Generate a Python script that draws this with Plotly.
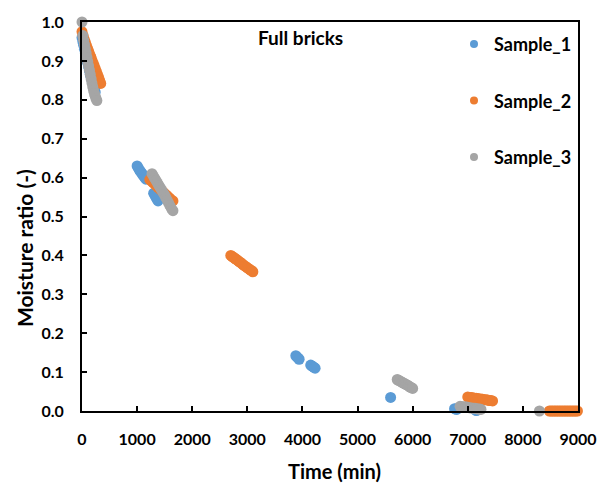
import plotly.graph_objects as go

# Sample_1 (blue)
s1_time = [0, 15, 30, 45, 60, 75, 90, 105, 120, 135, 150, 165, 180, 195, 210, 225, 240,
           1000, 1020, 1040, 1060, 1080, 1100, 1120, 1140, 1160,
           1300, 1320, 1340, 1360, 1380,
           3880, 3900, 3920, 3940,
           4150, 4170, 4190, 4210, 4230,
           5600,
           6760, 6780, 6800, 7140, 7160]
s1_mr = [0.96, 0.95, 0.94, 0.93, 0.92, 0.91, 0.90, 0.895, 0.885, 0.875, 0.865, 0.86, 0.85, 0.845, 0.835, 0.83, 0.82,
         0.630, 0.625, 0.620, 0.616, 0.612, 0.608, 0.604, 0.600, 0.596,
         0.560, 0.555, 0.550, 0.545, 0.540,
         0.142, 0.139, 0.136, 0.133,
         0.118, 0.116, 0.114, 0.112, 0.110,
         0.035,
         0.006, 0.005, 0.004, 0.002, 0.001]

# Sample_2 (orange)
s2_time = [0, 20, 40, 60, 80, 100, 120, 140, 160, 180, 200, 220, 240, 260, 280, 300, 320, 340,
           1230, 1260, 1290, 1320, 1350, 1380, 1410, 1440, 1470, 1500, 1530, 1560, 1590, 1620, 1650,
           2700, 2725, 2750, 2775, 2800, 2825, 2850, 2875, 2900, 2925, 2950, 2975, 3000, 3025, 3050, 3075, 3100,
           7000, 7030, 7060, 7090, 7120, 7150, 7180, 7210, 7240, 7270, 7300, 7330, 7360, 7390, 7420, 7450,
           8480, 8510, 8540, 8570, 8600, 8630, 8660, 8690, 8720, 8750, 8780, 8810, 8840, 8870, 8900, 8930, 8960, 8990]
s2_mr = [0.975, 0.965, 0.955, 0.948, 0.940, 0.932, 0.925, 0.917, 0.910, 0.902, 0.895, 0.888, 0.880, 0.873, 0.865, 0.858, 0.850, 0.842,
         0.595, 0.591, 0.587, 0.583, 0.579, 0.575, 0.571, 0.567, 0.563, 0.559, 0.555, 0.551, 0.547, 0.543, 0.540,
         0.400, 0.397, 0.395, 0.392, 0.390, 0.387, 0.384, 0.382, 0.379, 0.376, 0.373, 0.371, 0.368, 0.366, 0.363, 0.361, 0.358,
         0.036, 0.035, 0.035, 0.034, 0.033, 0.033, 0.032, 0.031, 0.031, 0.030, 0.029, 0.029, 0.028, 0.027, 0.027, 0.026,
         0.0, 0.0, 0.0, 0.0, 0.0, 0.0, 0.0, 0.0, 0.0, 0.0, 0.0, 0.0, 0.0, 0.0, 0.0, 0.0, 0.0, 0.0]

# Sample_3 (grey)
s3_time = [0, 15, 30, 45, 60, 75, 90, 105, 120, 135, 150, 165, 180, 195, 210, 225, 240, 255, 270,
           1270, 1295, 1320, 1345, 1370, 1395, 1420, 1445, 1470, 1495, 1520, 1545, 1570, 1595, 1620, 1650,
           5720, 5740, 5760, 5780, 5800, 5820, 5840, 5860, 5880, 5900, 5920, 5940, 5960, 5980, 6000,
           6860, 6890, 6920, 6950, 6980, 7010, 7040, 7070, 7100, 7130, 7160, 7190, 7220, 7240,
           8300]
s3_mr = [1.0, 0.965, 0.953, 0.942, 0.931, 0.920, 0.909, 0.898, 0.887, 0.876, 0.865, 0.854, 0.843, 0.833, 0.824, 0.816, 0.809, 0.803, 0.798,
         0.610, 0.604, 0.598, 0.592, 0.586, 0.580, 0.574, 0.568, 0.562, 0.556, 0.549, 0.542, 0.535, 0.528, 0.521, 0.515,
         0.081, 0.079, 0.078, 0.076, 0.074, 0.073, 0.071, 0.070, 0.068, 0.067, 0.065, 0.063, 0.061, 0.060, 0.058,
         0.012, 0.011, 0.011, 0.010, 0.010, 0.009, 0.008, 0.008, 0.007, 0.007, 0.006, 0.005, 0.005, 0.004,
         0.0]

series = [("Sample_1", s1_time, s1_mr, "#5B9BD5"),
          ("Sample_2", s2_time, s2_mr, "#ED7D31"),
          ("Sample_3", s3_time, s3_mr, "#A5A5A5")]

FONT = "Lato"

fig = go.Figure()
for name, t, v, c in series:
    fig.add_trace(go.Scatter(x=t, y=v, mode="markers", name=name,
                             legendgroup=name, showlegend=False,
                             marker=dict(color=c, size=11, line=dict(width=0)),
                             cliponaxis=False))
# legend entries (no data) with the smaller legend symbol
for name, t, v, c in series:
    fig.add_trace(go.Scatter(x=[None], y=[None], mode="markers", name=name,
                             legendgroup=name, showlegend=True,
                             marker=dict(color=c, size=8, line=dict(width=0))))

axis_common = dict(showline=True, linecolor="black", linewidth=2, mirror=True,
                   ticks="inside", ticklen=5, tickcolor="black", tickwidth=1.5,
                   showgrid=False, zeroline=False,
                   tickfont=dict(family=FONT, size=16, color="black", weight="bold"))

fig.update_layout(
    width=609, height=489,
    margin=dict(l=82, r=28, t=12, b=78),
    plot_bgcolor="white", paper_bgcolor="white",
    xaxis=dict(range=[0, 9000], dtick=1000, tick0=0, ticklabelstandoff=13,
               **axis_common),
    yaxis=dict(range=[0, 1.0], dtick=0.1, tick0=0, tickformat=".1f", ticklabelstandoff=13,
               **axis_common),
    legend=dict(x=0.75, y=0.99, xanchor="left", yanchor="top",
                bgcolor="rgba(0,0,0,0)", tracegroupgap=30, itemsizing="trace",
                font=dict(family=FONT, size=18, color="black", weight="bold")),
    annotations=[
        dict(text="Full bricks", x=0.44, y=0.96, xref="paper", yref="paper",
             showarrow=False, xanchor="center", yanchor="middle",
             font=dict(family=FONT, size=19, color="black", weight="bold")),
        dict(text="Time (min)", x=0.51, y=-0.155, xref="paper", yref="paper",
             showarrow=False, xanchor="center", yanchor="middle",
             font=dict(family=FONT, size=20, color="black", weight="bold")),
        dict(text="Moisture ratio (-)", x=-0.116, y=0.42, xref="paper", yref="paper",
             showarrow=False, xanchor="center", yanchor="middle", textangle=-90,
             font=dict(family=FONT, size=21, color="black", weight="bold")),
    ],
)

fig.write_html("out.html")
